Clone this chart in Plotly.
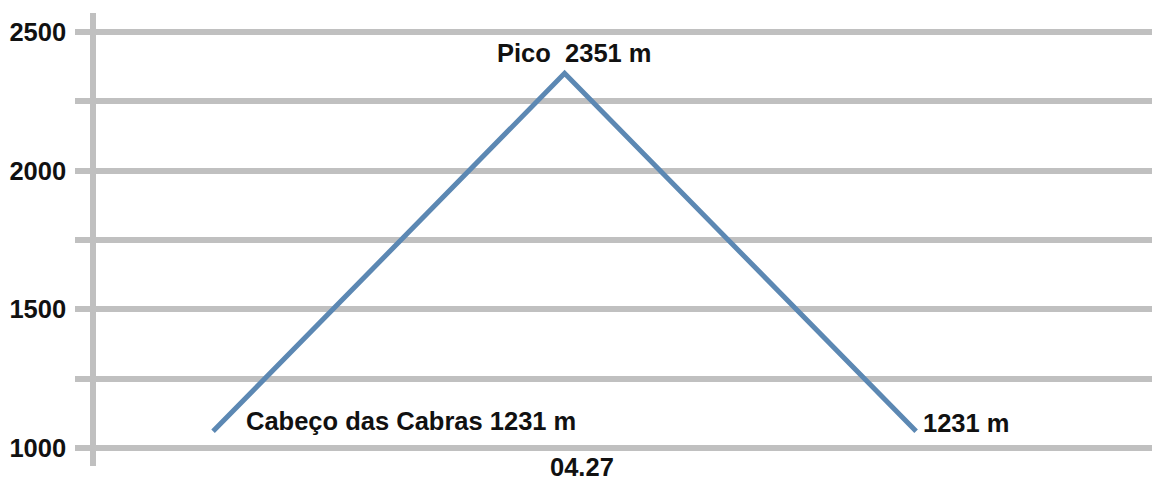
import plotly.graph_objects as go

# Data
point_index = [0, 1, 2]
elevation = [1060, 2351, 1060]
point_labels = ["Cabeço das Cabras 1231 m", "Pico  2351 m", "1231 m"]
y_tick_values = [1000, 1250, 1500, 1750, 2000, 2250, 2500]
y_tick_text = ["1000", "", "1500", "", "2000", "", "2500"]
x_tick_pos = [1.05]
x_tick_text = ["04.27"]

FONT = dict(family="Liberation Sans, Arial, sans-serif", size=25.5, color="#111111", weight="bold")
GRID = "#c0c0c0"

fig = go.Figure()
fig.add_trace(go.Scatter(
    x=point_index, y=elevation, mode="lines",
    line=dict(color="#5c88b3", width=5),
    hoverinfo="skip", showlegend=False,
))

# point labels
label_cfg = [
    dict(xanchor="left", yanchor="middle", xshift=31, yshift=10),
    dict(xanchor="center", yanchor="bottom", xshift=10, yshift=4),
    dict(xanchor="left", yanchor="middle", xshift=5, yshift=8),
]
for xi, yi, txt, cfg in zip(point_index, elevation, point_labels, label_cfg):
    fig.add_annotation(x=xi, y=yi, xref="x", yref="y", text=txt,
                       showarrow=False, font=FONT, **cfg)

for xp, xt in zip(x_tick_pos, x_tick_text):
    fig.add_annotation(x=xp, y=0, xref="x", yref="paper", text=xt,
                       showarrow=False, font=FONT, xanchor="center",
                       yanchor="middle", yshift=-1)

fig.update_layout(
    width=1152, height=483,
    margin=dict(l=96, r=0, t=13, b=17),
    paper_bgcolor="white", plot_bgcolor="white",
    font=FONT,
    xaxis=dict(range=[-0.333, 2.671], showgrid=False, zeroline=False,
               showline=False, showticklabels=False, ticks=""),
    yaxis=dict(range=[935, 2568.5], tickmode="array",
               tickvals=y_tick_values, ticktext=y_tick_text,
               showgrid=True, gridcolor=GRID, gridwidth=5.5,
               zeroline=False, showline=True, linecolor=GRID, linewidth=5.5,
               ticks="outside", ticklen=15, tickwidth=5.5, tickcolor=GRID,
               ticklabelstandoff=4, tickfont=FONT),
)

fig.write_html("out.html", config={"displayModeBar": False},
               post_script="document.body.style.margin='0';")
